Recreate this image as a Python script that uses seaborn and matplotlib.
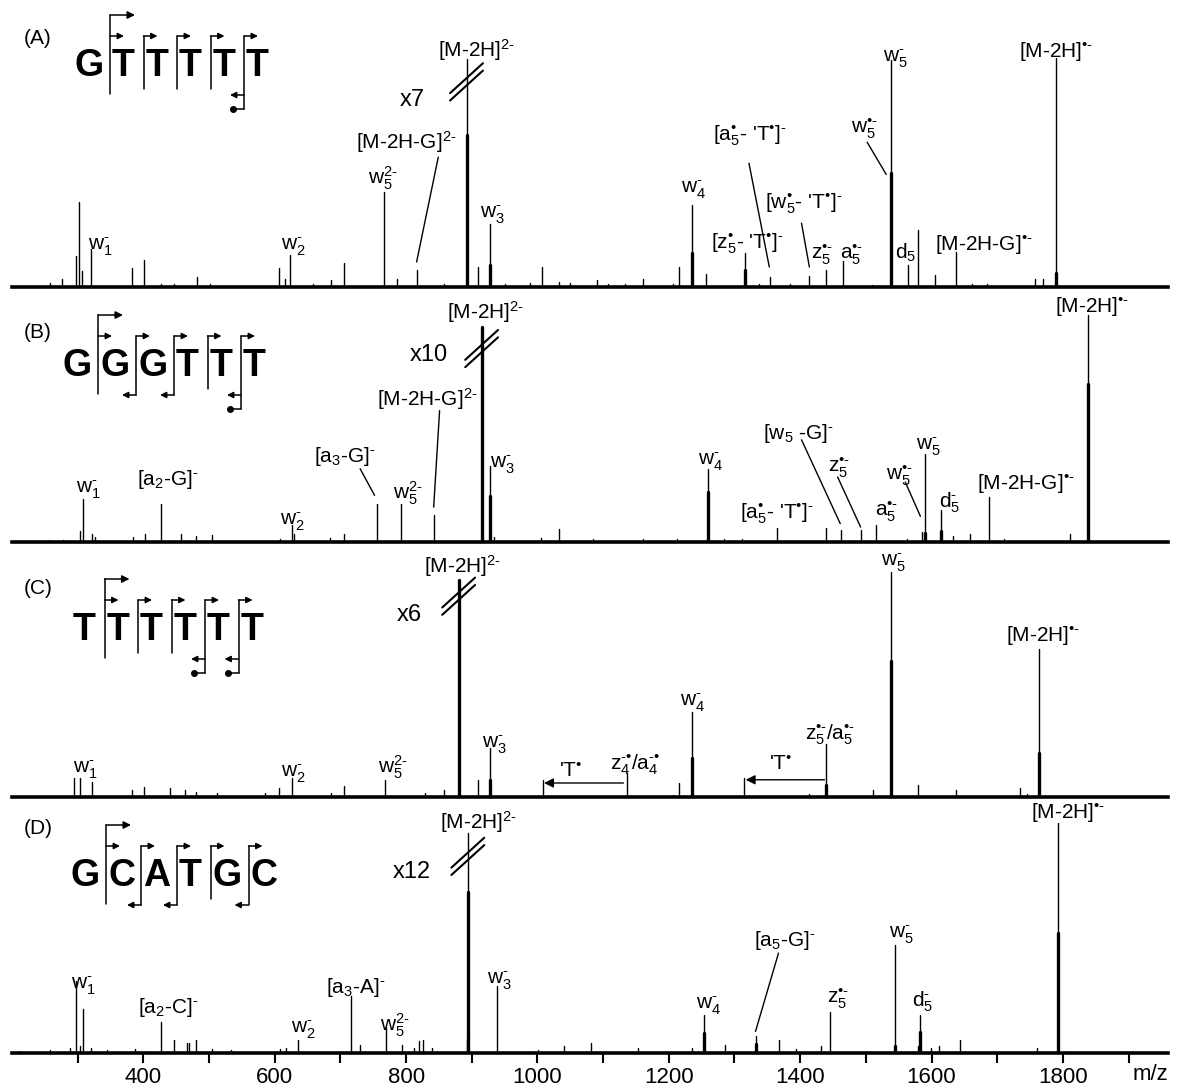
import numpy as np
import pandas as pd
import matplotlib
matplotlib.use("Agg")
import matplotlib.pyplot as plt
import seaborn as sns

# ---- peak lists: m/z and relative intensity (%) ----
a_mz = [258, 276, 297, 302, 306, 321, 383, 401, 427, 446, 481, 501, 606, 616, 624, 658, 685, 705,
        767, 786, 817, 857, 892, 909, 928, 951, 989, 1007, 1033, 1050, 1090, 1108, 1134, 1160, 1207,
        1216, 1235, 1257, 1316, 1338, 1354, 1385, 1413, 1440, 1465, 1510, 1539, 1564, 1579, 1606,
        1637, 1662, 1685, 1758, 1770, 1789]
a_int = [1.7, 3.6, 13.3, 37.0, 7.0, 16.7, 8.3, 11.9, 1.2, 1.2, 4.3, 1.2, 8.3, 3.6, 13.8, 1.5, 2.9, 10.4,
         41.3, 3.6, 7.5, 1.5, 99.3, 8.7, 27.5, 1.5, 1.7, 8.7, 2.2, 1.7, 2.9, 1.5, 1.5, 3.6, 1.5,
         8.7, 35.5, 5.8, 14.9, 1.5, 4.3, 1.5, 4.6, 7.5, 11.2, 0.7, 98.8, 9.4, 24.9, 5.1,
         15.2, 1.5, 1.5, 3.6, 3.6, 99.7]
a_thick_mz = [892, 928, 1235, 1316, 1539, 1789]
a_thick_int = [66.0, 9.4, 15.0, 7.2, 49.6, 6.1]

b_mz = [256, 277, 303, 308, 322, 326, 384, 402, 427, 457, 480, 505, 608, 626, 629, 684, 705, 755,
        793, 842, 915, 928, 934, 1006, 1033, 1085, 1160, 1213, 1260, 1284, 1311, 1364, 1439, 1462,
        1492, 1516, 1562, 1586, 1590, 1615, 1633, 1658, 1688, 1711, 1811, 1838]
b_int = [1.0, 1.0, 5.0, 18.8, 3.6, 2.2, 2.2, 3.6, 16.4, 3.3, 2.5, 2.9, 1.4, 7.2, 3.6, 1.9, 3.6, 16.4,
         16.4, 11.6, 93.5, 33.3, 2.2, 1.9, 5.8, 1.4, 1.4, 1.4, 31.9, 1.4, 1.4, 6.2, 6.2, 5.1,
         5.1, 7.2, 1.4, 4.3, 38.4, 13.8, 2.5, 3.6, 19.6, 1.4, 3.6, 98.6]
b_thick_mz = [915, 928, 1260, 1590, 1615, 1838]
b_thick_int = [93.5, 20.0, 21.7, 4.0, 5.0, 68.8]

c_mz = [294, 303, 322, 383, 401, 440, 464, 480, 512, 585, 606, 626, 685, 705, 768, 829, 858, 880,
        909, 928, 1008, 1085, 1136, 1207, 1216, 1235, 1315, 1414, 1440, 1511, 1539, 1580, 1637,
        1734, 1746, 1764]
c_int = [8.3, 8.3, 6.4, 3.2, 4.3, 3.9, 3.2, 2.0, 1.7, 1.7, 3.9, 8.3, 1.7, 4.9, 7.5, 1.7, 2.9, 94.5,
         7.5, 21.3, 7.5, 0.5, 10.4, 1.0, 6.1, 37.2, 8.3, 1.4, 23.2, 2.9, 98.1, 5.4, 2.9,
         3.9, 1.4, 64.3]
c_thick_mz = [880, 928, 1235, 1440, 1539, 1764]
c_thick_int = [94.5, 7.5, 17.0, 5.4, 59.0, 19.1]

d_mz = [210, 258, 288, 298, 303, 308, 320, 345, 387, 427, 447, 466, 469, 480, 505, 533, 608, 617,
        636, 716, 730, 770, 794, 812, 819, 826, 840, 892, 894, 938, 1001, 1041, 1082, 1153, 1236,
        1253, 1286, 1332, 1367, 1394, 1432, 1446, 1545, 1579, 1583, 1599, 1612, 1643, 1761, 1792]
d_int = [1.0, 1.4, 2.2, 31.2, 2.9, 19.3, 2.2, 1.4, 1.7, 13.3, 5.5, 4.3, 4.3, 5.5, 1.7, 1.4, 1.7, 2.2,
         5.5, 24.6, 3.6, 11.3, 3.6, 2.2, 5.1, 5.5, 2.2, 6.1, 95.7, 29.3, 1.4, 3.2, 4.3, 2.2, 2.2,
         16.7, 3.6, 7.2, 5.5, 1.7, 3.2, 17.7, 47.1, 2.9, 16.7, 2.2, 2.9, 5.5, 2.2, 100.0]
d_thick_mz = [894, 1253, 1332, 1545, 1583, 1792]
d_thick_int = [70.3, 8.7, 4.0, 3.0, 9.0, 52.2]

# ---- peak annotations: text, m/z, height ----
HY = '\u2010'  # short hyphen used in the charge superscripts
a_labels = [('w$_1^{%s}$' % HY, 335, 15.9), ('w$_2^{%s}$' % HY, 629, 15.9),
            ('w$_5^{2%s}$' % HY, 765, 44.9), ('[M-2H-G]$^{2%s}$' % HY, 800, 60.1),
            ('[M-2H]$^{2%s}$' % HY, 908, 100), ('w$_3^{%s}$' % HY, 931, 29.7),
            ('w$_4^{%s}$' % HY, 1237, 40.6), ("[a$^•_5$- 'T$^•$]$^{%s}$" % HY, 1324, 63.8),
            ("[w$^•_5$- 'T$^•$]$^{%s}$" % HY, 1406, 34.1), ("[z$^•_5$- 'T$^•$]$^{%s}$" % HY, 1319, 16.7),
            ('z$_5^{•%s}$' % HY, 1433, 11.9), ('a$_5^{•%s}$' % HY, 1478, 11.9),
            ('w$_5^{%s}$' % HY, 1545, 97.8), ('w$_5^{•%s}$' % HY, 1498, 66.7), ('d$_5$', 1560, 12.3),
            ('[M-2H-G]$^{•%s}$' % HY, 1679, 15.9), ('[M-2H]$^{•%s}$' % HY, 1790, 100)]
b_labels = [('w$_1^{%s}$' % HY, 316, 21.0), ('[a$_2$-G]$^{%s}$' % HY, 438, 24.6),
            ('w$_2^{%s}$' % HY, 627, 7.2), ('[a$_3$-G]$^{%s}$' % HY, 707, 34.8),
            ('w$_5^{2%s}$' % HY, 803, 18.8), ('[M-2H-G]$^{2%s}$' % HY, 832, 59.4),
            ('[M-2H]$^{2%s}$' % HY, 921, 97.1), ('w$_3^{%s}$' % HY, 947, 31.9),
            ('w$_4^{%s}$' % HY, 1263, 33.3), ("[a$^•_5$- 'T$^•$]$^{%s}$" % HY, 1364, 10.1),
            ('[w$_5$ -G]$^{%s}$' % HY, 1397, 44.9), ('z$_5^{•%s}$' % HY, 1459, 30.4),
            ('a$_5^{•%s}$' % HY, 1531, 10.9), ('w$_5^{•%s}$' % HY, 1551, 26.8),
            ('w$_5^{%s}$' % HY, 1595, 39.9), ('d$_5^{%s}$' % HY, 1627, 15.2),
            ('[M-2H-G]$^{•%s}$' % HY, 1743, 23.2), ('[M-2H]$^{•%s}$' % HY, 1844, 100)]
c_labels = [('w$_1^{%s}$' % HY, 312, 10.4), ('w$_2^{%s}$' % HY, 629, 8.3),
            ('w$_5^{2%s}$' % HY, 780, 10.4), ('[M-2H]$^{2%s}$' % HY, 886, 97.4),
            ('w$_3^{%s}$' % HY, 935, 21.3), ("'T$^•$", 1050, 8.8),
            ('z$_4^{%s•}$/a$_4^{%s•}$' % (HY, HY), 1149, 11.9), ('w$_4^{%s}$' % HY, 1236, 39.4),
            ("'T$^•$", 1370, 11.9), ('z$_5^{•%s}$/a$_5^{•%s}$' % (HY, HY), 1446, 24.9),
            ('w$_5^{%s}$' % HY, 1542, 100.3), ('[M-2H]$^{•%s}$' % HY, 1770, 67.7)]
d_labels = [('w$_1^{%s}$' % HY, 309, 27.8), ('[a$_2$-C]$^{%s}$' % HY, 438, 17.4),
            ('w$_2^{%s}$' % HY, 643, 8.7), ('[a$_3$-A]$^{%s}$' % HY, 723, 26.1),
            ('w$_5^{2%s}$' % HY, 783, 9.4), ('[M-2H]$^{2%s}$' % HY, 911, 97.4),
            ('w$_3^{%s}$' % HY, 942, 29.7), ('w$_4^{%s}$' % HY, 1260, 18.8),
            ('[a$_5$-G]$^{%s}$' % HY, 1376, 46.4), ('z$_5^{•%s}$' % HY, 1457, 21.7),
            ('w$_5^{%s}$' % HY, 1554, 50), ('d$_5^{%s}$' % HY, 1586, 20.3),
            ('[M-2H]$^{•%s}$' % HY, 1808, 102.2)]

# leader lines (m/z, height) -> (m/z, height)
a_leaders = [(849, 56.5, 816, 10.9), (1322, 53.9, 1353, 8.7), (1402, 27.8, 1414, 8.7),
             (1502, 63.0, 1531, 49.0)]
b_leaders = [(730, 31.9, 752, 20.3), (851, 57.2, 842, 15.2), (1402, 44.5, 1461, 8.0),
             (1457, 28.3, 1492, 6.5), (1560, 26.1, 1583, 11.2)]
c_leaders = []
d_leaders = [(1367, 43.5, 1332, 9.4)]
c_losses = [(1131, 1010, 6.1), (1437, 1317, 7.5)]   # 'T' neutral loss arrows

# truncated base peak: m/z, break height, magnification text
zooms = [(892, 87.7, 'x7', 810, 79), (915, 82.6, 'x10', 834, 78.7),
         (880, 85.8, 'x6', 805, 76.4), (894, 84.0, 'x12', 809, 76)]

# ---- fragmentation schemes ----
seqs = ['GTTTTT', 'GGGTTT', 'TTTTTT', 'GCATGC']
tags = ['(A)', '(B)', '(C)', '(D)']
w_cuts = [[4], [1, 2, 4], [3, 4], [1, 2, 4]]
w_dots = [[4], [4], [3, 4], []]

sns.set_style('white')
plt.rcParams['font.family'] = ['Liberation Sans', 'DejaVu Sans']
plt.rcParams['text.color'] = 'black'
plt.rcParams['xtick.color'] = 'black'
plt.rcParams['axes.labelcolor'] = 'black'
plt.rcParams['mathtext.fontset'] = 'custom'
plt.rcParams['mathtext.rm'] = 'Liberation Sans'
plt.rcParams['mathtext.it'] = 'Liberation Sans'
plt.rcParams['mathtext.default'] = 'regular'

W, H = 1179, 1091
fig = plt.figure(figsize=(W / 100, H / 100), dpi=100)

baselines = [287, 542, 797, 1053]
panel_h = 255
x_left, x_right = 12, 1168

panels = [(a_mz, a_int, a_thick_mz, a_thick_int, a_labels, a_leaders),
          (b_mz, b_int, b_thick_mz, b_thick_int, b_labels, b_leaders),
          (c_mz, c_int, c_thick_mz, c_thick_int, c_labels, c_leaders),
          (d_mz, d_int, d_thick_mz, d_thick_int, d_labels, d_leaders)]


def sticks(ax, mz, inten, lw):
    n = len(mz)
    df = pd.DataFrame({'mz': np.repeat(mz, 2),
                       'intensity': np.column_stack([np.zeros(n), inten]).ravel(),
                       'peak': np.repeat(np.arange(n), 2)})
    sns.lineplot(data=df, x='mz', y='intensity', units='peak', estimator=None, sort=False,
                 color='black', lw=lw, ax=ax, legend=False)


axes = []
for k, (mz, inten, tmz, tint, labels, leaders) in enumerate(panels):
    ax = fig.add_axes([x_left / W, (H - baselines[k]) / H, (x_right - x_left) / W, panel_h / H])
    sticks(ax, mz, inten, 1.0)
    sticks(ax, tmz, tint, 2.4)
    ax.set_xlim(200, 1960)
    ax.set_ylim(0, 111)
    ax.set_xlabel('')
    ax.set_ylabel('')
    ax.set_yticks([])
    for s in ['left', 'right', 'top']:
        ax.spines[s].set_visible(False)
    ax.spines['bottom'].set_linewidth(2.6)
    ax.spines['bottom'].set_color('black')
    ax.patch.set_alpha(0)
    for txt, x, y in labels:
        ax.text(x, y, txt, fontsize=15, ha='center', va='baseline')
    for x1, y1, x2, y2 in leaders:
        ax.plot([x1, x2], [y1, y2], color='black', lw=1.0)
    bx, by, ztxt, zx, zy = zooms[k]
    for off in (0, 3.2):
        ax.plot([bx - 25, bx + 25], [by - 6.5 + off, by + 6.5 + off], color='black', lw=1.5)
    ax.text(zx, zy, ztxt, fontsize=17, ha='center', va='baseline')
    if k < 3:
        ax.set_xticks([])
    axes.append(ax)

for x1, x2, y in c_losses:
    axes[2].annotate('', xy=(x2, y), xytext=(x1, y),
                     arrowprops=dict(arrowstyle='-|>', color='black', lw=1.0,
                                     mutation_scale=14, shrinkA=0, shrinkB=0))

axd = axes[3]
axd.set_xticks(range(400, 1801, 200))
axd.set_xticks(range(300, 1901, 200), minor=True)
axd.tick_params(axis='x', which='both', direction='out', length=7, width=1.5,
                labelsize=16, pad=3, bottom=True, colors='black')
axd.text(1.0, -0.045, 'm/z', transform=axd.transAxes, fontsize=16, ha='right', va='top')

# overlay in pixel units for the sequence schemes
ov = fig.add_axes([0, 0, 1, 1])
ov.set_xlim(0, W)
ov.set_ylim(H, 0)
ov.axis('off')

widths = {'G': 38, 'T': 33.5, 'C': 35, 'A': 36}
starts = [72, 60, 71, 68]
tops = [49, 349, 613, 859]
tag_y = [39, 333, 588, 829]


def arrow(x1, y1, x2, y2, ms=9):
    ov.annotate('', xy=(x2, y2), xytext=(x1, y1),
                arrowprops=dict(arrowstyle='-|>', color='black', lw=1.1,
                                mutation_scale=ms, shrinkA=0, shrinkB=0))


for k in range(4):
    top = tops[k]
    ov.text(38, tag_y[k], tags[k], fontsize=15, ha='center', va='center')
    x = starts[k]
    seps = []
    for i, ch in enumerate(seqs[k]):
        w = widths[ch]
        ov.text(x + 2, top + 27, ch, fontsize=27, fontweight='bold',
                ha='left', va='baseline')
        x += w
        if i < len(seqs[k]) - 1:
            seps.append(x)
    for i, xs in enumerate(seps):
        y_top = top - 13
        y_bot = top + 40
        if i == 0:
            y_top = top - 34
            y_bot = top + 45
            arrow(xs, top - 34, xs + 25, top - 34, ms=11)
        arrow(xs, top - 13, xs + 14, top - 13)
        if i in w_cuts[k]:
            y_bot = top + 46
            arrow(xs, top + 46, xs - 14, top + 46)
        if i in w_dots[k]:
            y_bot = top + 60
            ov.plot([xs, xs - 11], [top + 60, top + 60], color='black', lw=1.1)
            ov.plot([xs - 11], [top + 60], 'o', color='black', ms=4)
        ov.plot([xs, xs], [y_top, y_bot], color='black', lw=1.1)

fig.savefig('out.png', dpi=100)
